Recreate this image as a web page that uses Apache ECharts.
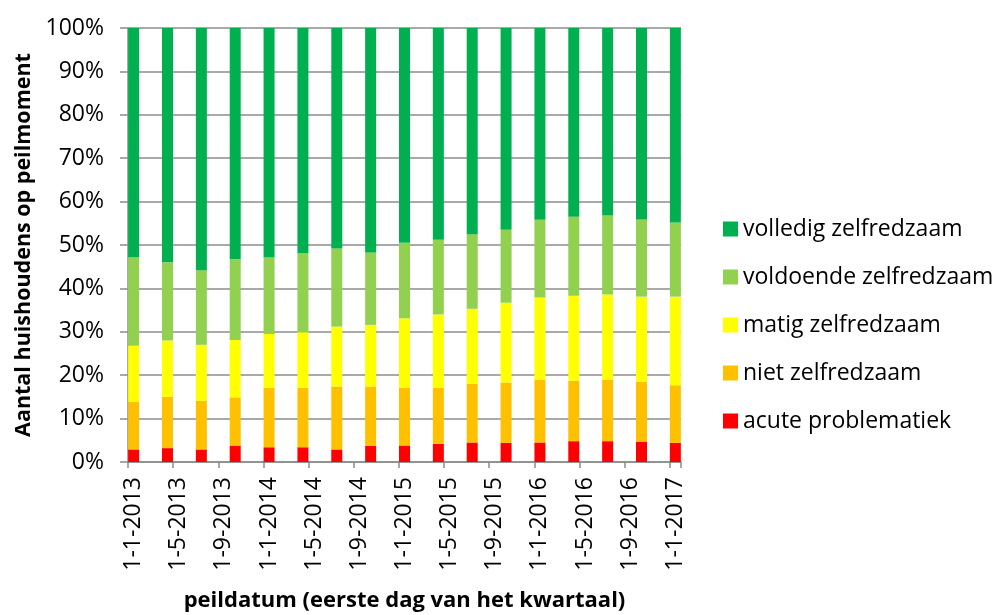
<!DOCTYPE html>
<html>
<head>
<meta charset="utf-8">
<script src="https://cdn.jsdelivr.net/npm/echarts@6/dist/echarts.min.js"></script>
<style>
html, body { margin: 0; padding: 0; background: #fff; }
#main { width: 998px; height: 615px; }
</style>
</head>
<body>
<div id="main"></div>
<script>
// peildata (kwartalen) en labels op de x-as
var peildata = ['1-1-2013', '1-4-2013', '1-7-2013', '1-10-2013',
                '1-1-2014', '1-4-2014', '1-7-2014', '1-10-2014',
                '1-1-2015', '1-4-2015', '1-7-2015', '1-10-2015',
                '1-1-2016', '1-4-2016', '1-7-2016', '1-10-2016',
                '1-1-2017'];
var asLabels = ['1-1-2013', '1-5-2013', '1-9-2013', '1-1-2014', '1-5-2014', '1-9-2014',
                '1-1-2015', '1-5-2015', '1-9-2015', '1-1-2016', '1-5-2016', '1-9-2016',
                '1-1-2017'];

// aandeel huishoudens (%)
var acuut     = [2.9, 3.2, 2.9, 3.8, 3.4, 3.4, 2.9, 3.7, 3.8, 4.2, 4.5, 4.4, 4.5, 4.8, 4.8, 4.7, 4.4];
var niet      = [11.0, 11.8, 11.2, 11.1, 13.7, 13.7, 14.5, 13.7, 13.3, 12.9, 13.5, 13.9, 14.5, 13.9, 14.2, 13.8, 13.3];
var matig     = [12.9, 13.0, 12.9, 13.2, 12.4, 12.8, 13.8, 14.2, 16.0, 16.9, 17.3, 18.4, 18.9, 19.6, 19.6, 19.6, 20.4];
var voldoende = [20.4, 18.0, 17.2, 18.6, 17.7, 18.2, 18.0, 16.7, 17.4, 17.2, 17.2, 16.8, 17.9, 18.2, 18.2, 17.8, 17.1];
var volledig  = [52.8, 54.0, 55.8, 53.3, 52.8, 51.9, 50.8, 51.7, 49.5, 48.8, 47.5, 46.5, 44.2, 43.5, 43.2, 44.1, 44.8];

// datum-as in maanden: elke maand is een categorie
function maand(d) {
    var p = d.split('-');
    return (parseInt(p[2], 10) - 2013) * 12 + (parseInt(p[1], 10) - 1);
}
var maanden = [];
for (var m = 0; m <= maand(peildata[peildata.length - 1]); m++) {
    maanden.push('1-' + (m % 12 + 1) + '-' + (2013 + Math.floor(m / 12)));
}

function reeks(naam, waarden, kleur) {
    var data = maanden.map(function () { return null; });
    waarden.forEach(function (v, i) { data[maand(peildata[i])] = v; });
    return {
        name: naam,
        type: 'bar',
        stack: 'totaal',
        barWidth: 11,
        itemStyle: { color: kleur },
        data: data
    };
}

function opLabel(i) { return asLabels.indexOf(maanden[i]) >= 0; }

var font = 'Open Sans';
var grijs = '#8c8c8c';
var chart = echarts.init(document.getElementById('main'));
chart.setOption({
    animation: false,
    textStyle: { fontFamily: font },
    grid: { left: 128, top: 28, right: 317, bottom: 153, outerBoundsMode: 'none' },
    legend: {
        orient: 'vertical',
        left: 723,
        top: 217,
        padding: 0,
        itemWidth: 15,
        itemHeight: 15,
        itemGap: 24,
        icon: 'rect',
        textStyle: { fontFamily: font, fontSize: 23, color: '#000', lineHeight: 24 },
        data: ['volledig zelfredzaam', 'voldoende zelfredzaam', 'matig zelfredzaam',
               'niet zelfredzaam', 'acute problematiek']
    },
    xAxis: {
        type: 'category',
        data: maanden,
        boundaryGap: true,
        name: 'peildatum (eerste dag van het kwartaal)',
        nameLocation: 'middle',
        nameGap: 128,
        nameTextStyle: { fontFamily: font, fontSize: 22, fontWeight: 'bold', color: '#000' },
        axisLine: { show: true, lineStyle: { color: grijs, width: 1.5 } },
        axisTick: { show: true, length: 6, interval: function (i) { return opLabel(i); },
                    lineStyle: { color: grijs, width: 1.5 } },
        axisLabel: {
            interval: function (i) { return opLabel(i); },
            rotate: 90,
            margin: 15,
            fontSize: 23,
            color: '#000'
        },
        splitLine: { show: false }
    },
    yAxis: {
        type: 'value',
        min: 0,
        max: 100,
        interval: 10,
        name: 'Aantal huishoudens op peilmoment',
        nameLocation: 'middle',
        nameGap: 92,
        nameTextStyle: { fontFamily: font, fontSize: 21.5, fontWeight: 'bold', color: '#000' },
        axisLine: { show: true, lineStyle: { color: grijs, width: 1.5 } },
        axisTick: { show: true, length: 8, lineStyle: { color: grijs, width: 1.5 } },
        axisLabel: { margin: 24, fontSize: 23, color: '#000', formatter: '{value}%' },
        splitLine: { show: true, lineStyle: { color: grijs, width: 1.5 } }
    },
    series: [
        reeks('acute problematiek', acuut, '#FF0000'),
        reeks('niet zelfredzaam', niet, '#FFC000'),
        reeks('matig zelfredzaam', matig, '#FFFF00'),
        reeks('voldoende zelfredzaam', voldoende, '#92D050'),
        reeks('volledig zelfredzaam', volledig, '#00B050')
    ]
});
</script>
</body>
</html>
